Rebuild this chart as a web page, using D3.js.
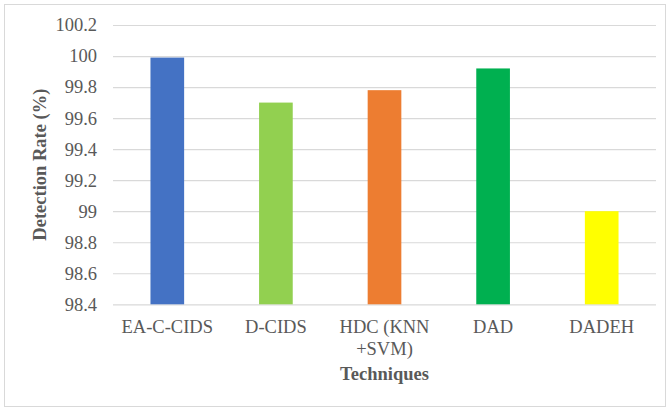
<!DOCTYPE html>
<html>
<head>
<meta charset="utf-8">
<script src="https://cdn.jsdelivr.net/npm/d3@7"></script>
<style>
  html, body { margin: 0; padding: 0; background: #fff; }
  svg { display: block; }
</style>
</head>
<body>
<svg id="chart" width="670" height="409"></svg>
<script>
// Detection rate per technique
const techniques = ["EA-C-CIDS", "D-CIDS", "HDC (KNN +SVM)", "DAD", "DADEH"];
const labelLines = [["EA-C-CIDS"], ["D-CIDS"], ["HDC (KNN", "+SVM)"], ["DAD"], ["DADEH"]];
const detectionRate = [99.99, 99.7, 99.78, 99.92, 99.0];
const barColors = ["#4472C4", "#92D050", "#ED7D31", "#00B050", "#FFFF00"];
const yTicks = [98.4, 98.6, 98.8, 99, 99.2, 99.4, 99.6, 99.8, 100, 100.2];
const yTickLabels = ["98.4", "98.6", "98.8", "99", "99.2", "99.4", "99.6", "99.8", "100", "100.2"];

const FONT = "'Liberation Serif', 'Times New Roman', serif";
const svg = d3.select("#chart");
const W = 670, H = 409;
const plot = { left: 113, right: 656, top: 25, bottom: 304.3 };

// chart frame
svg.append("rect")
  .attr("x", 4.5).attr("y", 4.5)
  .attr("width", W - 9).attr("height", H - 7)
  .attr("fill", "#fff").attr("stroke", "#d9d9d9").attr("stroke-width", 1);

const x = d3.scaleBand()
  .domain(techniques)
  .range([plot.left, plot.right])
  .paddingInner(0.69).paddingOuter(0.345);

const y = d3.scaleLinear()
  .domain([98.4, 100.2])
  .range([plot.bottom, plot.top]);

// gridlines and tick labels
const yAxis = d3.axisLeft(y)
  .tickValues(yTicks)
  .tickFormat((d, i) => yTickLabels[i])
  .tickSize(-(plot.right - plot.left))
  .tickPadding(16);

const gy = svg.append("g")
  .attr("transform", `translate(${plot.left},0)`)
  .call(yAxis);
gy.select(".domain").remove();
gy.selectAll(".tick line").attr("stroke", "#d9d9d9").attr("stroke-width", 1.2);
gy.selectAll(".tick text")
  .attr("fill", "#595959")
  .style("font-family", FONT)
  .style("font-size", "18.5px");

// bars
svg.append("g").selectAll("rect")
  .data(techniques)
  .join("rect")
  .attr("x", d => x(d))
  .attr("width", x.bandwidth())
  .attr("y", (d, i) => y(detectionRate[i]))
  .attr("height", (d, i) => y(98.4) - y(detectionRate[i]))
  .attr("fill", (d, i) => barColors[i]);

// category labels
const xLabels = svg.append("g");
techniques.forEach((t, i) => {
  const cx = x(t) + x.bandwidth() / 2;
  const txt = xLabels.append("text")
    .attr("x", cx).attr("y", 333)
    .attr("text-anchor", "middle")
    .attr("fill", "#595959")
    .style("font-family", FONT)
    .style("font-size", "18.5px");
  labelLines[i].forEach((line, j) => {
    txt.append("tspan").attr("x", cx).attr("dy", j === 0 ? 0 : 21.5).text(line);
  });
});

// axis titles
svg.append("text")
  .attr("x", (plot.left + plot.right) / 2).attr("y", 380)
  .attr("text-anchor", "middle")
  .attr("fill", "#595959")
  .style("font-family", FONT)
  .style("font-size", "18.5px")
  .style("font-weight", "bold")
  .text("Techniques");

svg.append("text")
  .attr("transform", `translate(46,${(plot.top + plot.bottom) / 2}) rotate(-90)`)
  .attr("text-anchor", "middle")
  .attr("fill", "#595959")
  .style("font-family", FONT)
  .style("font-size", "18.5px")
  .style("font-weight", "bold")
  .text("Detection Rate (%)");
</script>
</body>
</html>
